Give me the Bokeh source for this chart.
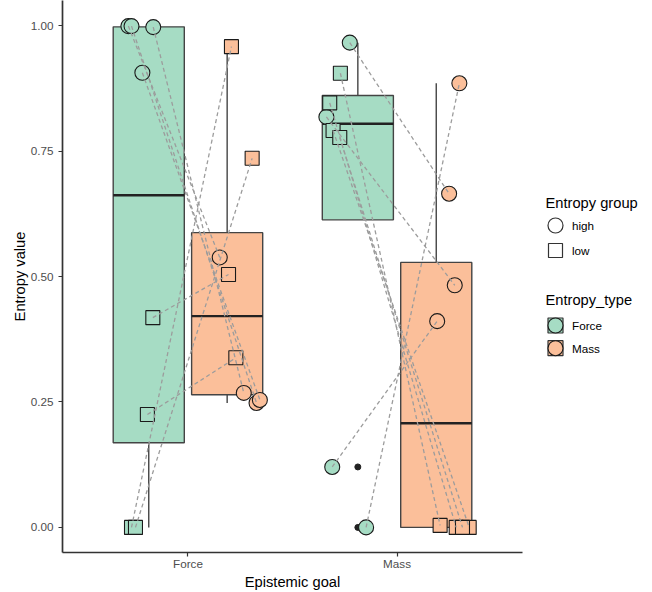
import numpy as np
from bokeh.plotting import figure
from bokeh.models import Range1d, FixedTicker, NumeralTickFormatter
from bokeh.layouts import row
from bokeh.core.properties import value
from bokeh.embed import file_html
from bokeh.resources import INLINE

# ---------------- data ----------------
goals = ["Force", "Mass"]                 # x categories (Epistemic goal)
entropy_types = ["Force", "Mass"]         # fill / dodge
entropy_groups = ["high", "low"]          # shape
y_ticks = [0.0, 0.25, 0.5, 0.75, 1.0]

# Epistemic goal = Force (one entry per participant)
force_goal_group = ["high", "high", "high", "high", "low", "low", "low", "low"]
force_goal_force = [0.999, 0.999, 0.997, 0.906, 0.418, 0.225, 0.0, 0.0]
force_goal_mass = [0.538, 0.248, 0.268, 0.254, 0.504, 0.338, 0.958, 0.7355]
force_goal_force_jitter = [-0.285, -0.270, -0.166, -0.218, -0.168, -0.194, -0.270, -0.251]
force_goal_mass_jitter = [0.152, 0.328, 0.267, 0.344, 0.194, 0.229, 0.208, 0.307]

# Epistemic goal = Mass
mass_goal_group = ["high", "high", "high", "high", "low", "low", "low", "low"]
mass_goal_force = [0.966, 0.818, 0.1205, 0.0, 0.905, 0.846, 0.791, 0.777]
mass_goal_mass = [0.665, 0.4825, 0.411, 0.885, 0.004, 0.0, 0.0, 0.0]
mass_goal_force_jitter = [-0.226, -0.338, -0.310, -0.148, -0.271, -0.322, -0.306, -0.274]
mass_goal_mass_jitter = [0.249, 0.276, 0.192, 0.298, 0.206, 0.283, 0.345, 0.313]

# ---------------- styles ----------------
GREEN = "#A6DCC4"
ORANGE = "#FBBF9A"
fills = {"Force": GREEN, "Mass": ORANGE}
dodge = {"Force": -0.1875, "Mass": 0.1875}
markers = {"high": "circle", "low": "square"}
msize = {"high": 15, "low": 14}
BOX_W = 0.34
FONT = "Liberation Sans"

conds = {
    "Force": dict(group=force_goal_group,
                  vals={"Force": force_goal_force, "Mass": force_goal_mass},
                  jit={"Force": force_goal_force_jitter, "Mass": force_goal_mass_jitter}),
    "Mass": dict(group=mass_goal_group,
                 vals={"Force": mass_goal_force, "Mass": mass_goal_mass},
                 jit={"Force": mass_goal_force_jitter, "Mass": mass_goal_mass_jitter}),
}

p = figure(frame_width=460, frame_height=552,
           x_range=Range1d(0.4, 2.6), y_range=Range1d(-0.05, 1.05),
           min_border_left=62, min_border_right=16, min_border_top=0, min_border_bottom=40,
           toolbar_location=None, output_backend="svg")
p.outline_line_color = None
p.xgrid.visible = False
p.ygrid.visible = False
p.background_fill_color = "white"
p.border_fill_color = "white"

# ---- boxplots ----
for gi, g in enumerate(goals, start=1):
    for t in entropy_types:
        v = np.array(conds[g]["vals"][t], dtype=float)
        q1, med, q3 = np.percentile(v, [25, 50, 75])
        iqr = q3 - q1
        lo = v[v >= q1 - 1.5 * iqr].min()
        hi = v[v <= q3 + 1.5 * iqr].max()
        out = v[(v < q1 - 1.5 * iqr) | (v > q3 + 1.5 * iqr)]
        cx = gi + dodge[t]
        if hi > q3:
            p.segment(x0=[cx], y0=[q3], x1=[cx], y1=[hi], line_color="#444444", line_width=1.4)
        if lo < q1:
            p.segment(x0=[cx], y0=[lo], x1=[cx], y1=[q1], line_color="#444444", line_width=1.4)
        p.vbar(x=[cx], width=BOX_W, bottom=[q1], top=[q3], fill_color=fills[t],
               line_color="#444444", line_width=1.4)
        p.segment(x0=[cx - BOX_W / 2], y0=[med], x1=[cx + BOX_W / 2], y1=[med],
                  line_color="#222222", line_width=2.4)
        if len(out):
            p.scatter(x=[cx] * len(out), y=list(out), marker="circle", size=6,
                      fill_color="#222222", line_color="#222222")

# ---- points ----
for gi, g in enumerate(goals, start=1):
    grp = conds[g]["group"]
    for t in entropy_types:
        vals = conds[g]["vals"][t]
        jit = conds[g]["jit"][t]
        for eg in entropy_groups:
            idx = [i for i, s in enumerate(grp) if s == eg]
            p.scatter(x=[gi + jit[i] for i in idx], y=[vals[i] for i in idx],
                      marker=markers[eg], size=msize[eg], fill_color=fills[t],
                      line_color="#1a1a1a", line_width=1.1)

# ---- paired dashed lines ----
for gi, g in enumerate(goals, start=1):
    c = conds[g]
    p.segment(x0=[gi + j for j in c["jit"]["Force"]], y0=c["vals"]["Force"],
              x1=[gi + j for j in c["jit"]["Mass"]], y1=c["vals"]["Mass"],
              line_color="#9C9C9C", line_width=1.3, line_dash="4 3")

# ---- axes ----
p.xaxis.ticker = FixedTicker(ticks=[1, 2])
p.xaxis.major_label_overrides = {1: goals[0], 2: goals[1]}
p.yaxis.ticker = FixedTicker(ticks=y_ticks)
p.yaxis.formatter = NumeralTickFormatter(format="0.00")
p.xaxis.axis_label = "Epistemic goal"
p.yaxis.axis_label = "Entropy value"
for ax in (p.xaxis, p.yaxis):
    ax.axis_line_color = "#333333"
    ax.axis_line_width = 1.7
    ax.major_tick_line_color = "#333333"
    ax.major_tick_line_width = 1.2
    ax.major_tick_in = 0
    ax.major_tick_out = 4
    ax.minor_tick_line_color = None
    ax.major_label_text_font = FONT
    ax.major_label_text_font_size = "11.7px"
    ax.major_label_text_color = "#4D4D4D"
    ax.axis_label_text_font = FONT
    ax.axis_label_text_font_size = "14.7px"
    ax.axis_label_text_font_style = "normal"
    ax.axis_label_text_color = "black"
p.yaxis.major_label_standoff = 5
p.yaxis.axis_label_standoff = 0
p.xaxis.major_label_standoff = 0
p.xaxis.axis_label_standoff = 1

# ---------------- legend panel ----------------
# frame aligned with the main plot's frame (552 px tall, starting at the top)
lg = figure(frame_width=114, frame_height=552, x_range=Range1d(0, 114), y_range=Range1d(552, 0),
            x_axis_location=None, y_axis_location=None,
            min_border_left=0, min_border_right=0, min_border_top=0, min_border_bottom=40,
            toolbar_location=None, output_backend="svg")
lg.outline_line_color = None
lg.grid.visible = False

def ltext(x, y, s, size):
    lg.text(x=[x], y=[y], text=[s], text_font=value(FONT), text_font_size=size,
            text_baseline="middle", text_align="left", text_color="black")

ltext(7, 202, "Entropy group", "14.7px")
lg.scatter(x=[17], y=[225], marker="circle", size=15, fill_color=None,
           line_color="#333333", line_width=1.2)
ltext(33.5, 225, entropy_groups[0], "11.7px")
lg.scatter(x=[17], y=[250], marker="square", size=14, fill_color=None,
           line_color="#333333", line_width=1.2)
ltext(33.5, 250, entropy_groups[1], "11.7px")

ltext(7, 299, "Entropy_type", "14.7px")
for t, yy in zip(entropy_types, [325, 347.7]):
    lg.scatter(x=[17], y=[yy], marker="square", size=15, fill_color=fills[t],
               line_color="#333333", line_width=1.2)
    lg.scatter(x=[17], y=[yy], marker="circle", size=15, fill_color=fills[t],
               line_color="#1a1a1a", line_width=1.1)
    ltext(33.5, yy, t, "11.7px")

layout = row(p, lg)
open("out.html", "w").write(file_html(layout, INLINE))
